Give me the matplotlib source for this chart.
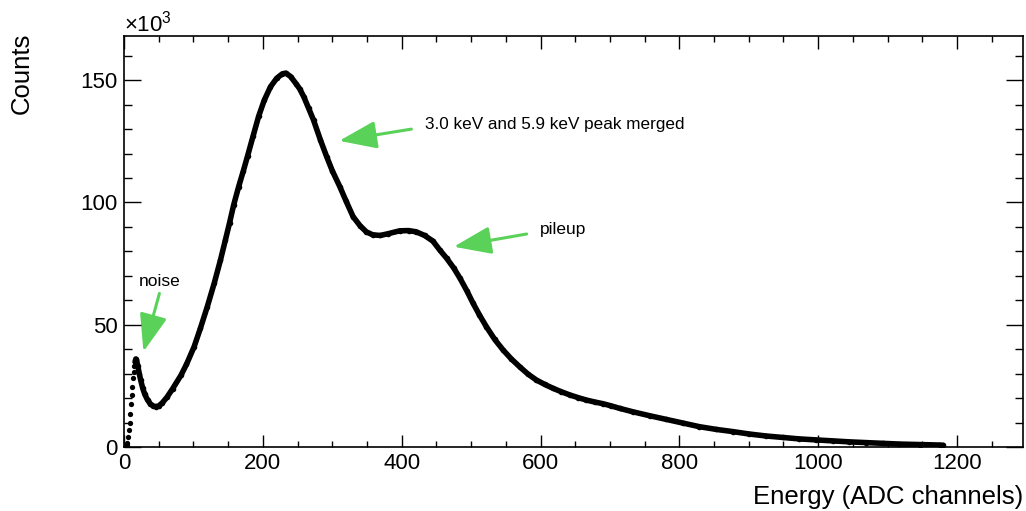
import numpy as np
import matplotlib
matplotlib.use('Agg')
import matplotlib.pyplot as plt
from matplotlib.patches import FancyArrowPatch
from matplotlib.ticker import MultipleLocator

plt.rcParams['font.family'] = ['Liberation Sans', 'DejaVu Sans']
plt.rcParams['mathtext.fontset'] = 'custom'
plt.rcParams['mathtext.rm'] = 'Liberation Sans'

# first channels: separate dots (noise rise)
rise_ch = [0, 1, 2, 3, 4, 5, 6, 7, 8, 9, 10, 11, 12, 13, 14, 15, 16]
rise_counts = [0.0, 0.1, 0.2, 0.4, 0.8, 1.5, 4.2, 7.0, 9.9, 13.5, 17.6, 21.3,
               24.7, 28.1, 30.8, 33.1, 34.9]

# rest of the spectrum (counts in units of 10^3)
channel = [16, 17, 18, 20, 22, 24, 27, 30, 34, 38, 42, 46, 50, 55, 62, 70, 82, 90,
           101, 110, 120, 130, 139, 146, 152, 158, 165, 172, 178, 186, 194, 202,
           211, 220, 228, 233, 240, 248, 253, 259, 266, 273, 283, 292, 300, 311,
           320, 330, 340, 349, 358, 369, 380, 397, 410, 421, 433, 445, 455, 465,
           475, 484, 494, 503, 512, 522, 534, 546, 558, 570, 582, 594, 606, 618,
           630, 642, 654, 666, 678, 690, 702, 714, 733, 757, 781, 805, 829, 853,
           877, 901, 925, 949, 973, 997, 1021, 1045, 1069, 1093, 1117, 1146,
           1175, 1180]
counts = [34.9, 36.0, 35.5, 33.0, 30.0, 27.4, 24.0, 21.5, 19.2, 17.6, 16.8, 16.5,
          16.8, 18.0, 20.4, 23.8, 29.3, 33.8, 41.0, 48.5, 57.4, 67.0, 76.5, 84.6,
          91.6, 99.0, 106.3, 113.0, 119.0, 127.2, 135.3, 141.8, 147.3, 150.8,
          152.6, 152.9, 151.5, 148.5, 146.5, 143.2, 138.5, 133.7, 125.5, 118.7,
          113.0, 106.4, 100.5, 94.2, 90.5, 88.0, 86.8, 86.5, 87.2, 88.4, 88.5,
          88.0, 86.5, 84.2, 80.5, 77.1, 73.2, 69.0, 63.8, 58.7, 54.0, 49.2, 44.0,
          39.7, 36.0, 32.8, 29.8, 27.4, 25.6, 24.0, 22.6, 21.3, 20.2, 19.2, 18.4,
          17.7, 16.8, 15.8, 14.4, 12.8, 11.3, 9.8, 8.3, 7.2, 6.3, 5.3, 4.5, 3.9,
          3.3, 2.9, 2.5, 2.1, 1.8, 1.5, 1.2, 1.0, 0.8, 0.7]

green = '#5ad25a'

fig = plt.figure(figsize=(10.26, 5.11), dpi=100)
ax = fig.add_axes([124 / 1026, 1 - 447 / 511, 899 / 1026, (447 - 35.7) / 511])

ax.plot(rise_ch, rise_counts, 'o', color='black', markersize=3.8, markeredgewidth=0)
ax.plot(channel, counts, '-o', color='black', lw=4.0, markersize=4.0,
        markeredgewidth=0, solid_joinstyle='round', solid_capstyle='round')

ax.set_xlim(0, 1295)
ax.set_ylim(0, 168.2)
ax.xaxis.set_major_locator(MultipleLocator(200))
ax.xaxis.set_minor_locator(MultipleLocator(50))
ax.yaxis.set_major_locator(MultipleLocator(50))
ax.yaxis.set_minor_locator(MultipleLocator(10))
ax.tick_params(which='both', direction='in', top=True, right=True, width=1.0,
               labelsize=16, pad=4.5)
ax.tick_params(axis='x', which='major', length=9)
ax.tick_params(axis='x', which='minor', length=4.5)
ax.tick_params(axis='y', which='major', length=12.5)
ax.tick_params(axis='y', which='minor', length=6)
for s in ax.spines.values():
    s.set_linewidth(1.2)

ax.set_xlabel('Energy (ADC channels)', fontsize=18.5, loc='right')
ax.xaxis.set_label_coords(1.0, -0.093)
ax.set_ylabel('Counts', fontsize=18.5, loc='top')
ax.yaxis.set_label_coords(-0.1, 1.008)

ax.text(0.0, 0.997, r'$\times10^{3}$', transform=ax.transAxes, fontsize=16,
        ha='left', va='bottom')

# annotations
ax.text(433, 130.0, '3.0 keV and 5.9 keV peak merged', fontsize=12.3, va='baseline')
ax.text(599, 87.0, 'pileup', fontsize=12.5, va='baseline')
ax.text(21.6, 65.8, 'noise', fontsize=12.5, va='baseline')

arrows = [((414, 130.0), (310, 125.2)),
          ((580, 87.1), (475, 81.9)),
          ((51, 62.8), (28, 39.0))]
for tail, tip in arrows:
    ax.add_patch(FancyArrowPatch(tail, tip, mutation_scale=1, color=green,
                                 arrowstyle='-|>,head_length=23,head_width=8.5',
                                 lw=2.2, shrinkA=0, shrinkB=0))

fig.savefig('out.png', dpi=100)
